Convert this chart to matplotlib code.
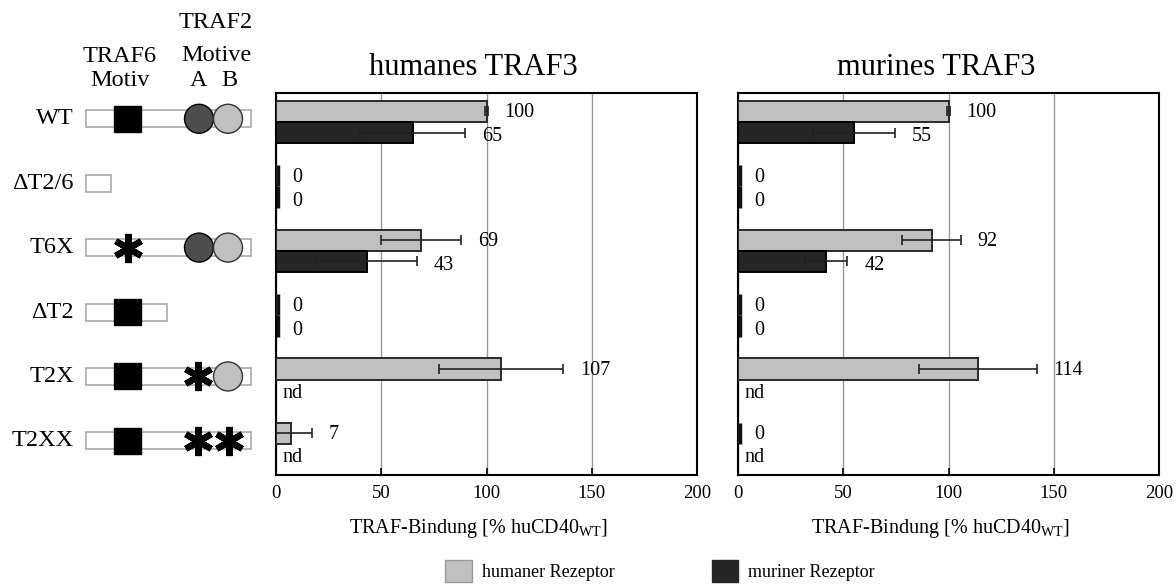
import numpy as np
import matplotlib
matplotlib.use('Agg')
import matplotlib.pyplot as plt
import matplotlib.transforms as mtransforms
from matplotlib.patches import Rectangle, Ellipse, Patch

plt.rcParams['font.family'] = ['Liberation Serif', 'DejaVu Serif']
plt.rcParams['mathtext.fontset'] = 'custom'
plt.rcParams['mathtext.rm'] = 'Liberation Serif'
plt.rcParams['mathtext.it'] = 'Liberation Serif:italic'

# --- data ---
categories = ['WT', 'ΔT2/6', 'T6X', 'ΔT2', 'T2X', 'T2XX']
series_labels = ['humaner Rezeptor', 'muriner Rezeptor']
panel_titles = ['humanes TRAF3', 'murines TRAF3']
nan = np.nan

hu_human = [100, 0, 69, 0, 107, 7]
hu_human_err = [0.5, 0, 19, 0, 29.5, 10]
hu_murine = [65, 0, 43, 0, nan, nan]
hu_murine_err = [25, 0, 24, 0, nan, nan]

mu_human = [100, 0, 92, 0, 114, 0]
mu_human_err = [0.5, 0, 14, 0, 28, 0]
mu_murine = [55, 0, 42, 0, nan, nan]
mu_murine_err = [19.6, 0, 10, 0, nan, nan]

xticks = [0, 50, 100, 150, 200]

# construct schematic: which motifs are intact / mutated / missing
construct_len = ['full', 'trunc26', 'full', 'trunc2', 'full', 'full']
traf6_motif = ['box', None, 'mut', 'box', 'box', 'box']
traf2_a = ['circle', None, 'circle', None, 'mut', 'mut']
traf2_b = ['circle', None, 'circle', None, 'circle', 'mut']

GRAY = '#c0c0c0'
DARK = '#262626'
W, H = 1176, 586
YLIM = (5.48, -0.45)


def rect(l, t, r, b):
    return [l / W, 1 - b / H, (r - l) / W, (b - t) / H]


fig = plt.figure(figsize=(W / 100, H / 100), dpi=100)
ax1 = fig.add_axes(rect(276, 93, 697, 475))
ax2 = fig.add_axes(rect(738, 93, 1159, 475))
ax0 = fig.add_axes(rect(0, 93, 270, 475))


def draw_panel(ax, title, hum, hum_err, mur, mur_err):
    y = np.arange(len(categories))
    h = 0.33
    hum = np.array(hum, float); hum_err = np.array(hum_err, float)
    mur = np.array(mur, float); mur_err = np.array(mur_err, float)

    ax.barh(y - h / 2, hum, height=h, color=GRAY, edgecolor='#2a2a2a',
            linewidth=1.4, zorder=3)
    ok = ~np.isnan(mur)
    ax.barh(y[ok] + h / 2, mur[ok], height=h, color=DARK, edgecolor='black',
            linewidth=1.4, zorder=3)

    # zero-length bars show up as a short dark stroke at the axis
    shift = mtransforms.offset_copy(ax.transData, fig=fig, x=1.5, y=0, units='dots')
    for vals, off in ((hum, -h / 2), (mur, h / 2)):
        for i, v in enumerate(vals):
            if v == 0:
                ax.plot([v, v], [y[i] + off - h / 2, y[i] + off + h / 2],
                        color='#111', linewidth=2.5, transform=shift,
                        clip_on=False, zorder=5, solid_capstyle='butt')

    e = hum_err > 0
    ax.errorbar(hum[e], y[e] - h / 2, xerr=hum_err[e], fmt='none',
                ecolor='#222', elinewidth=1.2, capsize=3.6, capthick=1.2, zorder=4)
    e = ok & (np.nan_to_num(mur_err) > 0)
    ax.errorbar(mur[e], y[e] + h / 2, xerr=mur_err[e], fmt='none',
                ecolor='#222', elinewidth=1.2, capsize=3.6, capthick=1.2, zorder=4)

    for i in range(len(categories)):
        ax.annotate(f'{hum[i]:g}', (hum[i] + hum_err[i], y[i] - h / 2),
                    xytext=(12, -1), textcoords='offset points',
                    ha='left', va='center', fontsize=14.5)
        if ok[i]:
            ax.annotate(f'{mur[i]:g}', (mur[i] + mur_err[i], y[i] + h / 2),
                        xytext=(12, -3), textcoords='offset points',
                        ha='left', va='center', fontsize=14.5)
        else:
            ax.annotate('nd', (0, y[i] + h / 2), xytext=(5, -2),
                        textcoords='offset points', ha='left', va='center',
                        fontsize=14.5)

    ax.set_xlim(0, 200)
    ax.set_ylim(*YLIM)
    ax.set_yticks([])
    ax.set_xticks(xticks)
    ax.set_axisbelow(True)
    ax.xaxis.grid(True, color='#999999', linewidth=1)
    ax.tick_params(axis='x', direction='in', length=5, width=1.2,
                   labelsize=13.5, pad=7)
    for sp in ax.spines.values():
        sp.set_linewidth(1.5)
    ax.set_title(title, fontsize=22, pad=13, x=0.47)
    ax.set_xlabel(r'TRAF-Bindung [% huCD40$_{\mathrm{WT}}$]', fontsize=14.5,
                  labelpad=11, x=0.48)


draw_panel(ax1, panel_titles[0], hu_human, hu_human_err, hu_murine, hu_murine_err)
draw_panel(ax2, panel_titles[1], mu_human, mu_human_err, mu_murine, mu_murine_err)

# --- construct schematic on the left ---
ax0.set_xlim(0, 270)
ax0.set_ylim(*YLIM)
ax0.axis('off')
ppu = (475 - 93) / (YLIM[0] - YLIM[1])  # pixels per row unit
ends = {'full': 251, 'trunc26': 111, 'trunc2': 167}


def asterisk(x, yc):
    ax0.plot(x, yc, marker=(6, 2, 0), markersize=21, markeredgewidth=4.5,
             color='black', zorder=5)


for i, cat in enumerate(categories):
    yc = i - 0.05
    ax0.text(74, yc, cat, ha='right', va='center', fontsize=17.5)
    bh = 17 / ppu
    ax0.add_patch(Rectangle((86, yc - bh / 2), ends[construct_len[i]] - 86, bh,
                            facecolor='white', edgecolor='#aaaaaa', linewidth=1.2))
    if traf6_motif[i] == 'box':
        sh = 26 / ppu
        ax0.add_patch(Rectangle((114, yc - sh / 2), 27, sh, facecolor='black',
                                edgecolor='black', zorder=3))
    elif traf6_motif[i] == 'mut':
        asterisk(128, yc)
    if traf2_a[i] == 'circle':
        ax0.add_patch(Ellipse((199, yc), 29, 29 / ppu, facecolor='#4d4d4d',
                              edgecolor='black', linewidth=1, zorder=3))
    elif traf2_a[i] == 'mut':
        asterisk(198, yc)
    if traf2_b[i] == 'circle':
        ax0.add_patch(Ellipse((228, yc), 29, 29 / ppu, facecolor=GRAY,
                              edgecolor='#333333', linewidth=1, zorder=4))
    elif traf2_b[i] == 'mut':
        asterisk(229, yc)

# header over the schematic
hdr = dict(ha='center', va='baseline', fontsize=17.5)
fig.text(120 / W, 1 - 62 / H, 'TRAF6', **hdr)
fig.text(120 / W, 1 - 86 / H, 'Motiv', **hdr)
fig.text(216 / W, 1 - 28 / H, 'TRAF2', **hdr)
fig.text(216 / W, 1 - 61 / H, 'Motive', **hdr)
fig.text(199 / W, 1 - 86 / H, 'A', **hdr)
fig.text(229 / W, 1 - 86 / H, 'B', **hdr)

# legend
handles = [Patch(facecolor=GRAY, edgecolor='#999999'),
           Patch(facecolor=DARK, edgecolor=DARK)]
fig.legend(handles, series_labels, loc='center', bbox_to_anchor=(660 / W, 1 - 571 / H),
           ncol=2, frameon=False, fontsize=13, handlelength=1.45, handleheight=1.55,
           handletextpad=0.55, columnspacing=5.4)

fig.savefig('out.png', dpi=100)
